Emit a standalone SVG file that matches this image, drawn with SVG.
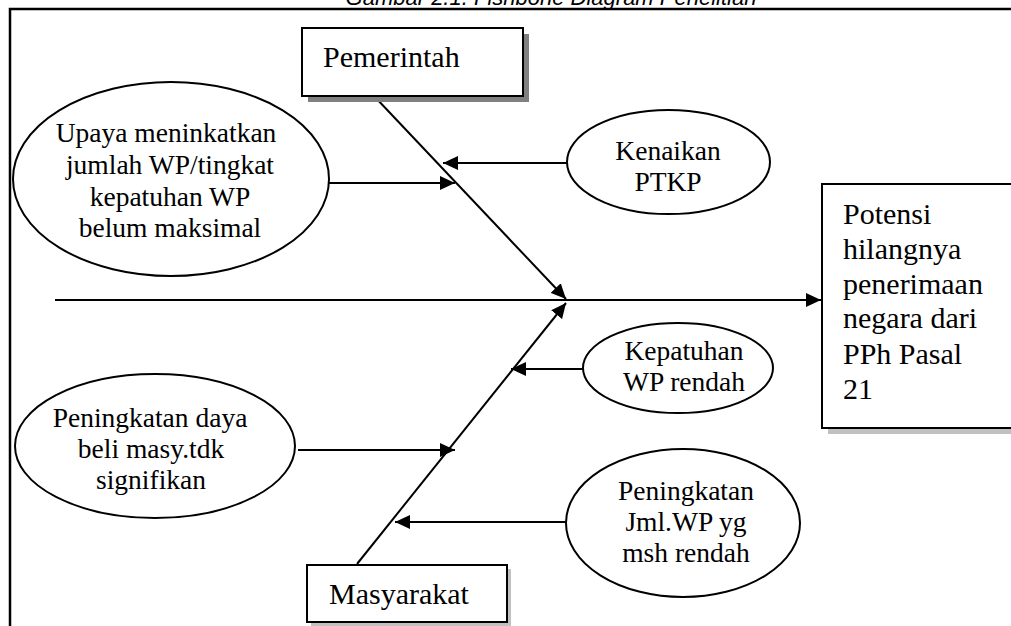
<svg xmlns="http://www.w3.org/2000/svg" width="1011" height="626" viewBox="0 0 1011 626">
<style>
.t{font-family:"Liberation Serif","Times New Roman",serif;fill:#000}
.e{font-size:27.5px;text-anchor:middle}
.b{font-size:30px}
.ln{stroke:#000;stroke-width:2;fill:none}
.box{fill:#fff;stroke:#000;stroke-width:2}
.el{fill:#fff;stroke:#000;stroke-width:2}
</style>
<defs>
<marker id="ah" markerUnits="userSpaceOnUse" markerWidth="16" markerHeight="14" refX="15" refY="7" orient="auto" viewBox="0 0 16 14">
<path d="M0,0 L15,7 L0,14 z" fill="#000"/>
</marker>
</defs>
<rect width="1011" height="626" fill="#fff"/>
<text x="551" y="5" font-family="Liberation Sans,Arial,sans-serif" font-style="italic" font-size="22" text-anchor="middle">Gambar 2.1. Fishbone Diagram Penelitian</text>
<path d="M10,626 L10,9 L1011,9" fill="none" stroke="#000" stroke-width="2.5"/>

<g id="connectors">
<line class="ln" x1="55" y1="300" x2="821" y2="300" marker-end="url(#ah)"/>
<line class="ln" x1="374" y1="96" x2="566" y2="299" marker-end="url(#ah)"/>
<line class="ln" x1="357" y1="564" x2="566" y2="303" marker-end="url(#ah)"/>
<line class="ln" x1="329" y1="183" x2="455" y2="183" marker-end="url(#ah)"/>
<line class="ln" x1="567" y1="163" x2="443" y2="163" marker-end="url(#ah)"/>
<line class="ln" x1="583" y1="369" x2="511" y2="369" marker-end="url(#ah)"/>
<line class="ln" x1="298" y1="450" x2="455" y2="450" marker-end="url(#ah)"/>
<line class="ln" x1="567" y1="522" x2="395" y2="522" marker-end="url(#ah)"/>
</g>

<g id="pemerintah">
<rect x="308" y="34" width="221" height="68" fill="#808080"/>
<rect class="box" x="302" y="28" width="221" height="68"/>
<text class="t b" x="323" y="67">Pemerintah</text>
</g>

<g id="masyarakat">
<rect x="311" y="569" width="200" height="57" fill="#c0c0c0"/>
<rect class="box" x="307" y="565" width="200" height="57"/>
<text class="t b" x="329" y="604">Masyarakat</text>
</g>

<g id="potensi">
<rect x="828" y="190" width="190" height="244" fill="#c0c0c0"/>
<rect class="box" x="822" y="184" width="195" height="244"/>
<text class="t b" x="843" y="224">Potensi</text>
<text class="t b" x="843" y="259">hilangnya</text>
<text class="t b" x="843" y="294">penerimaan</text>
<text class="t b" x="843" y="328">negara dari</text>
<text class="t b" x="843" y="364">PPh Pasal</text>
<text class="t b" x="843" y="399">21</text>
</g>

<g id="upaya">
<ellipse class="el" cx="171" cy="179" rx="158" ry="97"/>
<text class="t e" x="166" y="142">Upaya meninkatkan</text>
<text class="t e" x="170" y="174">jumlah WP/tingkat</text>
<text class="t e" x="170" y="206">kepatuhan WP</text>
<text class="t e" x="170" y="237">belum maksimal</text>
</g>

<g id="kenaikan">
<ellipse class="el" cx="668.5" cy="162" rx="101.5" ry="52"/>
<text class="t e" x="668" y="160">Kenaikan</text>
<text class="t e" x="668" y="191">PTKP</text>
</g>

<g id="kepatuhan">
<ellipse class="el" cx="678" cy="368" rx="95" ry="45"/>
<text class="t e" x="684" y="360">Kepatuhan</text>
<text class="t e" x="684" y="391">WP rendah</text>
</g>

<g id="dayabeli">
<ellipse class="el" cx="155" cy="446" rx="140" ry="72"/>
<text class="t e" x="150" y="427">Peningkatan daya</text>
<text class="t e" x="151" y="458">beli masy.tdk</text>
<text class="t e" x="151" y="489">signifikan</text>
</g>

<g id="jmlwp">
<ellipse class="el" cx="683" cy="523" rx="117" ry="74"/>
<text class="t e" x="686" y="500">Peningkatan</text>
<text class="t e" x="686" y="531">Jml.WP yg</text>
<text class="t e" x="686" y="562">msh rendah</text>
</g>
</svg>
